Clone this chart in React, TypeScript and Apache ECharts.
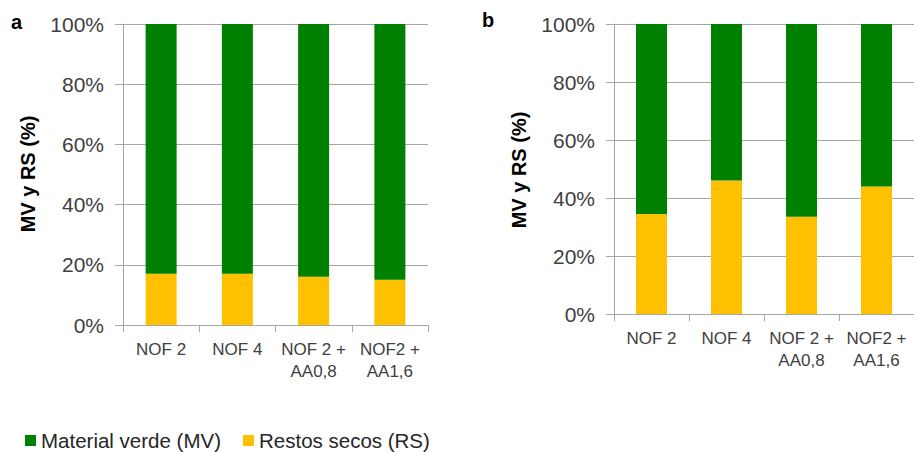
import React, { useEffect, useRef } from "react";
import * as echarts from "echarts";

const categories = ["NOF 2", "NOF 4", "NOF 2 +\nAA0,8", "NOF2 +\nAA1,6"];
const rsA = [17, 17, 16, 15];
const mvA = [83, 83, 84, 85];
const rsB = [34.5, 46, 33.5, 44];
const mvB = [65.5, 54, 66.5, 56];
const yTicks = [0, 20, 40, 60, 80, 100];

const GREEN = "#008000";
const YELLOW = "#ffc000";
const SANS = "'Liberation Sans', Arial, sans-serif";

export default function App() {
  const ref = useRef<HTMLDivElement>(null);
  useEffect(() => {
    if (!ref.current) return;
    const chart = echarts.init(ref.current, undefined, { renderer: "svg" });
    const xAxisBase = (gridIndex: number) => ({
      type: "category" as const,
      gridIndex,
      data: categories,
      axisLine: { lineStyle: { color: "#a6a6a6", width: 1 } },
      axisTick: { show: true, length: 7, lineStyle: { color: "#a6a6a6" } },
      axisLabel: {
        color: "#404040",
        fontFamily: SANS,
        fontSize: 17,
        lineHeight: 22,
        margin: 13,
        interval: 0,
      },
    });
    const yAxisBase = (gridIndex: number) => ({
      type: "value" as const,
      gridIndex,
      min: yTicks[0],
      max: yTicks[yTicks.length - 1],
      interval: 20,
      axisLine: { show: true, lineStyle: { color: "#a6a6a6", width: 1 } },
      axisTick: { show: true, length: 8, lineStyle: { color: "#a6a6a6" } },
      splitLine: { show: true, lineStyle: { color: "#a6a6a6", width: 1 } },
      axisLabel: {
        color: "#404040",
        fontFamily: SANS,
        fontSize: 21,
        margin: 19,
        formatter: "{value}%",
      },
    });
    const barBase = { type: "bar" as const, barWidth: 31 };
    chart.setOption({
      animation: false,
      backgroundColor: "#ffffff",
      grid: [
        { left: 123, top: 24, width: 305, height: 301 },
        { left: 614, top: 24, width: 308, height: 290 },
      ],
      xAxis: [xAxisBase(0), xAxisBase(1)],
      yAxis: [yAxisBase(0), yAxisBase(1)],
      legend: {
        left: 25,
        top: 430,
        padding: 0,
        itemWidth: 11,
        itemHeight: 11,
        itemGap: 22,
        icon: "rect",
        textStyle: { color: "#262626", fontFamily: SANS, fontSize: 20.5 },
        data: ["Material verde (MV)", "Restos secos (RS)"],
      },
      graphic: [
        { type: "text", left: 11, top: 12, style: { text: "a", fontFamily: SANS, fontWeight: "bold", fontSize: 20, fill: "#000" } },
        { type: "text", left: 482, top: 10, style: { text: "b", fontFamily: SANS, fontWeight: "bold", fontSize: 20, fill: "#000" } },
        {
          type: "text", x: 28, y: 174, rotation: Math.PI / 2,
          style: { text: "MV y RS (%)", fontFamily: SANS, fontWeight: "bold", fontSize: 20, fill: "#000", align: "center", verticalAlign: "middle" },
        },
        {
          type: "text", x: 519, y: 170, rotation: Math.PI / 2,
          style: { text: "MV y RS (%)", fontFamily: SANS, fontWeight: "bold", fontSize: 20, fill: "#000", align: "center", verticalAlign: "middle" },
        },
      ],
      series: [
        { ...barBase, name: "Restos secos (RS)", stack: "a", xAxisIndex: 0, yAxisIndex: 0, data: rsA, itemStyle: { color: YELLOW } },
        { ...barBase, name: "Material verde (MV)", stack: "a", xAxisIndex: 0, yAxisIndex: 0, data: mvA, itemStyle: { color: GREEN } },
        { ...barBase, name: "Restos secos (RS)", stack: "b", xAxisIndex: 1, yAxisIndex: 1, data: rsB, itemStyle: { color: YELLOW } },
        { ...barBase, name: "Material verde (MV)", stack: "b", xAxisIndex: 1, yAxisIndex: 1, data: mvB, itemStyle: { color: GREEN } },
      ],
    });
    return () => chart.dispose();
  }, []);
  return <div ref={ref} style={{ position: "fixed", left: 0, top: 0, width: 914, height: 452 }} />;
}
